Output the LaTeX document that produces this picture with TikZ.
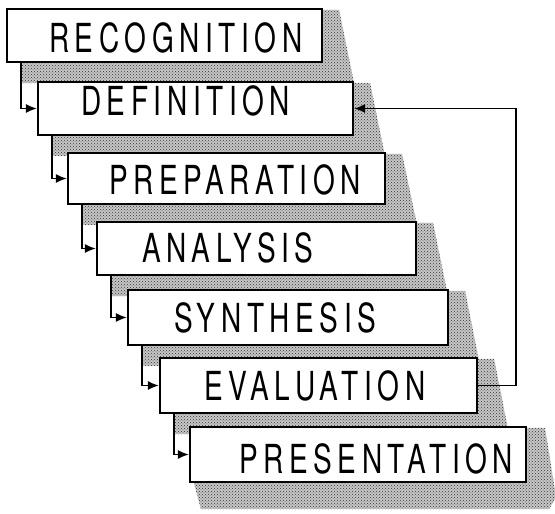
\documentclass[tikz,border=0pt]{standalone}
\usepackage{fontspec}
\newfontfamily\stagefont[LetterSpace=14,FakeStretch=0.7]{TeX Gyre Heros}
\usetikzlibrary{arrows.meta, patterns, backgrounds}
\colorlet{colorShadow}{black!80}
\tikzset{
  stage/.style={draw, fill=white, line width=2.2pt, inner sep=0pt},
  stagetext/.style={anchor=west, inner sep=0pt, font=\stagefont\fontsize{40}{44}\selectfont},
  flow/.style={-{Latex[length=11pt,width=9pt]}, line width=1.6pt},
  shadow/.style={fill=black!22, postaction={pattern=crosshatch dots, pattern color=colorShadow}}
}

\begin{document}
\begin{tikzpicture}[x=1pt, y=-1pt]
\useasboundingbox (0,0) rectangle (555,514);
% the seven stages
\node[stage, minimum width=315, minimum height=53] (rec) at (164.5,35.5) {};
\node[stage, minimum width=315, minimum height=53] (def) at (195.5,108.5) {};
\node[stage, minimum width=317, minimum height=51] (prep) at (226.5,178.5) {};
\node[stage, minimum width=319, minimum height=53] (anal) at (256.5,248.5) {};
\node[stage, minimum width=320, minimum height=55] (syn) at (288,317.5) {};
\node[stage, minimum width=317, minimum height=55] (eval) at (318.5,385.5) {};
\node[stage, minimum width=336, minimum height=55] (pres) at (358,454.5) {};
\node[stagetext] (rectext) at ([shift={(43,2)}]rec.west) {RECOGNITION};
\node[stagetext] (deftext) at ([shift={(44,-8)}]def.west) {DEFINITION};
\node[stagetext] (preptext) at ([shift={(42,1)}]prep.west) {PREPARATION};
\node[stagetext] (analtext) at ([shift={(46,-1)}]anal.west) {ANALYSIS};
\node[stagetext] (syntext) at ([shift={(47,0)}]syn.west) {SYNTHESIS};
\node[stagetext] (evaltext) at ([shift={(45,0)}]eval.west) {EVALUATION};
\node[stagetext] (prestext) at ([shift={(50,4.5)}]pres.west) {PRESENTATION};
% stippled shadow
\begin{pgfonlayer}{background}
\foreach \b in {rec,def,prep,anal,syn,eval}
  \fill[shadow] ([shift={(15,0)}]\b.south west) -- ([shift={(0,2)}]\b.north east) -- ([shift={(16,2)}]\b.north east) -- ([shift={(31,20)}]\b.south east) -- ([shift={(15,20)}]\b.south west) -- cycle;
\fill[shadow] ([shift={(5,0)}]pres.south west) -- ([shift={(0,2)}]pres.north east) -- ([shift={(18,2)}]pres.north east) -- ([shift={(29,14)}]pres.south east) -- ([shift={(22,26)}]pres.south east) -- ([shift={(12,26)}]pres.south west) -- cycle;
\end{pgfonlayer}
% connectors
\foreach \a/\b in {rec/def, def/prep, prep/anal, anal/syn, syn/eval, eval/pres}
  \draw[flow] ([shift={(15,0)}]\a.south west) |- (\b.west);
\draw[flow] (eval.east) -- ++(38,0) |- (def.east);
\end{tikzpicture}
\end{document}
